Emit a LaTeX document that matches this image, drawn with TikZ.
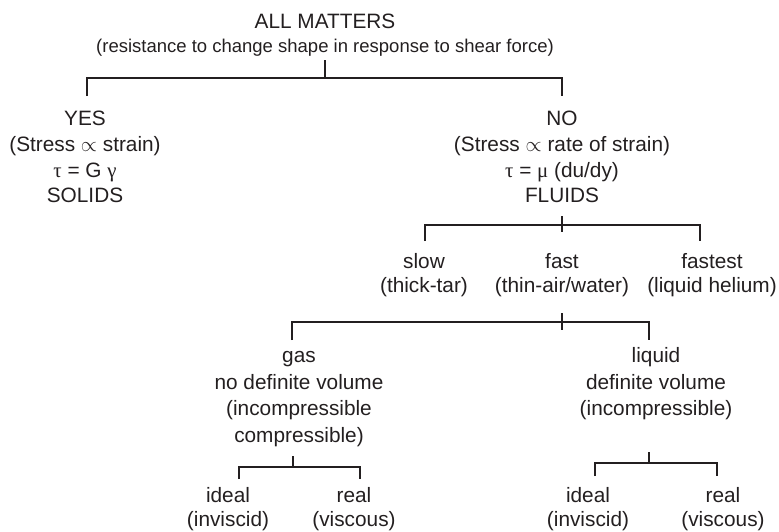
\documentclass[tikz,border=0pt]{standalone}
\usepackage{fontspec}
\setmainfont{Liberation Sans}
\newfontfamily\greek{Liberation Serif}
\definecolor{ink}{RGB}{35,31,32}
\begin{document}
\begin{tikzpicture}[x=1pt,y=-1pt,
  main/.style={font=\fontsize{20.8}{25}\selectfont, anchor=base, inner sep=0pt, text=ink},
  sub/.style={main, font=\fontsize{18.5}{22}\selectfont},
  link/.style={draw=ink, line width=1.7pt}]
\useasboundingbox (0,0) rectangle (779,531);

% root
\node[main] (all)    at (325,28) {ALL MATTERS};
\node[sub]  (allsub) at (325,52) {(resistance to change shape in response to shear force)};

% solids branch
\node[main] (yes)    at (85,125)   {YES};
\node[main] (yes2)   at (85,151)   {(Stress $\propto$ strain)};
\node[main] (yes3)   at (85,177)   {{\greek τ} = G {\greek γ}};
\node[main] (solids) at (85,202)   {SOLIDS};

% fluids branch
\node[main] (no)     at (562,125)  {NO};
\node[main] (no2)    at (562,151)  {(Stress $\propto$ rate of strain)};
\node[main] (no3)    at (562,177)  {{\greek τ} = {\greek μ} (du/dy)};
\node[main] (fluids) at (562,202)  {FLUIDS};

% speed of flow
\node[main] (slow)     at (424,268) {slow};
\node[main] (slow2)    at (424,292) {(thick-tar)};
\node[main] (fast)     at (562,268) {fast};
\node[main] (fast2)    at (562,292) {(thin-air/water)};
\node[main] (fastest)  at (712,268) {fastest};
\node[main] (fastest2) at (712,292) {(liquid helium)};

% gas
\node[main] (gas)  at (299,362.5) {gas};
\node[main] (gas2) at (299,389)   {no definite volume};
\node[main] (gas3) at (299,415.5) {(incompressible};
\node[main] (gas4) at (299,442)   {compressible)};

% liquid
\node[main] (liq)  at (656,362.5) {liquid};
\node[main] (liq2) at (656,389)   {definite volume};
\node[main] (liq3) at (656,415.5) {(incompressible)};

% gas: ideal / real
\node[main] (gideal)  at (228,502) {ideal};
\node[main] (gideal2) at (228,526) {(inviscid)};
\node[main] (greal)   at (354,502) {real};
\node[main] (greal2)  at (354,526) {(viscous)};

% liquid: ideal / real
\node[main] (lideal)  at (588,502) {ideal};
\node[main] (lideal2) at (588,526) {(inviscid)};
\node[main] (lreal)   at (723,502) {real};
\node[main] (lreal2)  at (723,526) {(viscous)};

% bracket corners
\coordinate (a0) at (325,60);  \coordinate (a1) at (325,78);
\coordinate (aL) at (87,78);   \coordinate (aLd) at (87,96);
\coordinate (aR) at (562,78);  \coordinate (aRd) at (562,96);

\coordinate (b0) at (562,216); \coordinate (b1) at (562,232);
\coordinate (bL) at (425,225); \coordinate (bLd) at (425,241);
\coordinate (bR) at (700,225); \coordinate (bRd) at (700,241);

\coordinate (c0) at (562,313); \coordinate (c1) at (562,330);
\coordinate (cL) at (292,322); \coordinate (cLd) at (292,340);
\coordinate (cR) at (649,322); \coordinate (cRd) at (649,340);

\coordinate (d0) at (293,456); \coordinate (d1) at (293,467);
\coordinate (dL) at (239,467); \coordinate (dLd) at (239,479);
\coordinate (dR) at (360,467); \coordinate (dRd) at (360,479);

\coordinate (e0) at (649,452); \coordinate (e1) at (649,463);
\coordinate (eL) at (595,463); \coordinate (eLd) at (595,476);
\coordinate (eR) at (717,463); \coordinate (eRd) at (717,476);

% brackets
\draw[link] (a0) -- (a1);
\draw[link] (aLd) -- (aL) -- (aR) -- (aRd);

\draw[link] (b0) -- (b1);
\draw[link] (bLd) -- (bL) -- (bR) -- (bRd);

\draw[link] (c0) -- (c1);
\draw[link] (cLd) -- (cL) -- (cR) -- (cRd);

\draw[link] (d0) -- (d1);
\draw[link] (dLd) -- (dL) -- (dR) -- (dRd);

\draw[link] (e0) -- (e1);
\draw[link] (eLd) -- (eL) -- (eR) -- (eRd);
\end{tikzpicture}
\end{document}
